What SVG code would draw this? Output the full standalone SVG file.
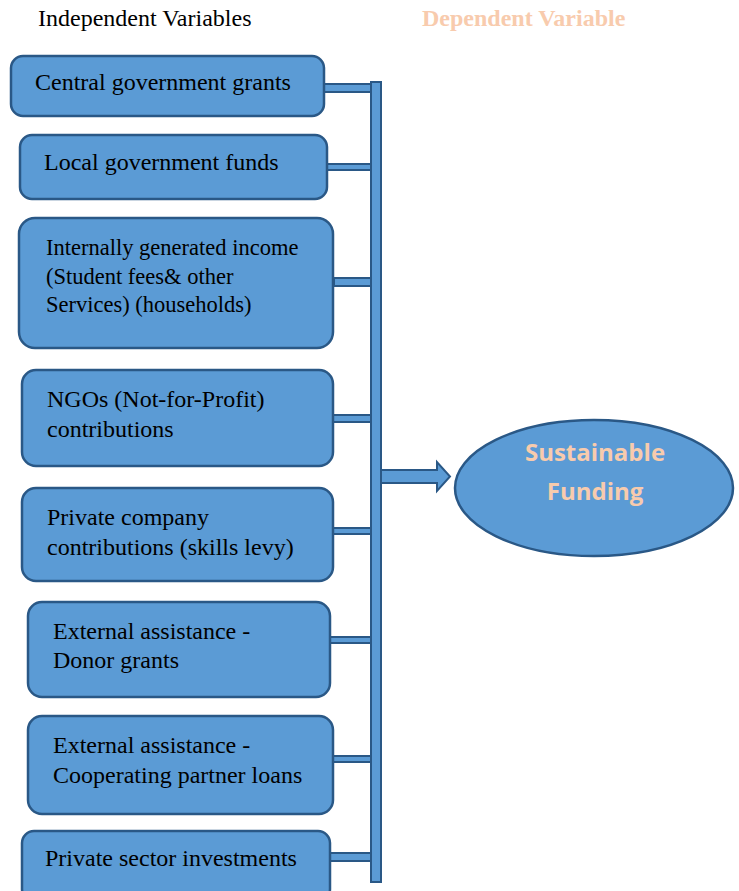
<svg xmlns="http://www.w3.org/2000/svg" width="739" height="891" viewBox="0 0 739 891">
  <style>
    .box { fill: #5B9BD5; stroke: #2A5886; stroke-width: 2.5; }
    .bar { fill: #5B9BD5; stroke: #2A5886; stroke-width: 2; }
    .lbl { font-family: "Liberation Serif", "Times New Roman", serif; font-size: 24px; fill: #000; }
    .sm { font-size: 22.5px; }
    .head { font-family: "Liberation Serif", "Times New Roman", serif; font-size: 24px; }
    .goal { font-family: "Open Sans", "Liberation Sans", sans-serif; font-size: 24px; font-weight: bold; fill: #F8CBAD; text-anchor: middle; }
  </style>
  <rect width="739" height="891" fill="#fff"/>

  <text class="head" x="38" y="26" fill="#000">Independent Variables</text>
  <text class="head" x="422" y="26" fill="#F8CBAD" font-weight="bold">Dependent Variable</text>

  <!-- connectors: branch stubs, trunk and arrow -->
  <g id="connectors">
    <rect class="bar" x="324" y="84" width="47" height="8"/>
    <rect class="bar" x="327" y="164" width="44" height="6"/>
    <rect class="bar" x="334" y="278" width="37" height="8"/>
    <rect class="bar" x="333" y="415" width="38" height="7"/>
    <rect class="bar" x="333" y="528" width="38" height="6"/>
    <rect class="bar" x="330" y="637" width="41" height="6"/>
    <rect class="bar" x="333" y="756" width="38" height="6"/>
    <rect class="bar" x="330" y="853" width="41" height="8"/>
    <rect class="bar" x="371" y="82" width="10" height="800"/>
    <path class="bar" d="M381,470 L437,470 L437,462 L450,476.5 L437,491 L437,483 L381,483 Z"/>
  </g>

  <g id="central-grants">
    <rect class="box" x="11" y="56" width="313" height="60" rx="12"/>
    <text class="lbl" x="35" y="90">Central government grants</text>
  </g>
  <g id="local-funds">
    <rect class="box" x="20" y="135" width="307" height="64" rx="12"/>
    <text class="lbl" x="44" y="170">Local government funds</text>
  </g>
  <g id="internal-income">
    <rect class="box" x="19" y="218" width="314" height="130" rx="16"/>
    <text class="lbl sm" x="46" y="255">Internally generated income</text>
    <text class="lbl sm" x="46" y="284">(Student fees&amp; other</text>
    <text class="lbl sm" x="46" y="312">Services) (households)</text>
  </g>
  <g id="ngos">
    <rect class="box" x="22" y="370" width="311" height="96" rx="14"/>
    <text class="lbl" x="47" y="407">NGOs (Not-for-Profit)</text>
    <text class="lbl" x="47" y="437">contributions</text>
  </g>
  <g id="private-company">
    <rect class="box" x="22" y="488" width="311" height="93" rx="14"/>
    <text class="lbl" x="47" y="525">Private company</text>
    <text class="lbl" x="47" y="555">contributions (skills levy)</text>
  </g>
  <g id="donor-grants">
    <rect class="box" x="28" y="602" width="302" height="95" rx="14"/>
    <text class="lbl" x="53" y="639">External assistance -</text>
    <text class="lbl" x="53" y="668">Donor grants</text>
  </g>
  <g id="partner-loans">
    <rect class="box" x="28" y="716" width="305" height="98" rx="14"/>
    <text class="lbl" x="53" y="753">External assistance -</text>
    <text class="lbl" x="53" y="783">Cooperating partner loans</text>
  </g>
  <g id="private-sector">
    <rect class="box" x="22" y="831" width="308" height="70" rx="12"/>
    <text class="lbl" x="45" y="866">Private sector investments</text>
  </g>

  <g id="sustainable-funding">
    <ellipse class="box" cx="594" cy="488" rx="139" ry="68"/>
    <text class="goal" x="595" y="461">Sustainable</text>
    <text class="goal" x="595" y="500">Funding</text>
  </g>
</svg>
